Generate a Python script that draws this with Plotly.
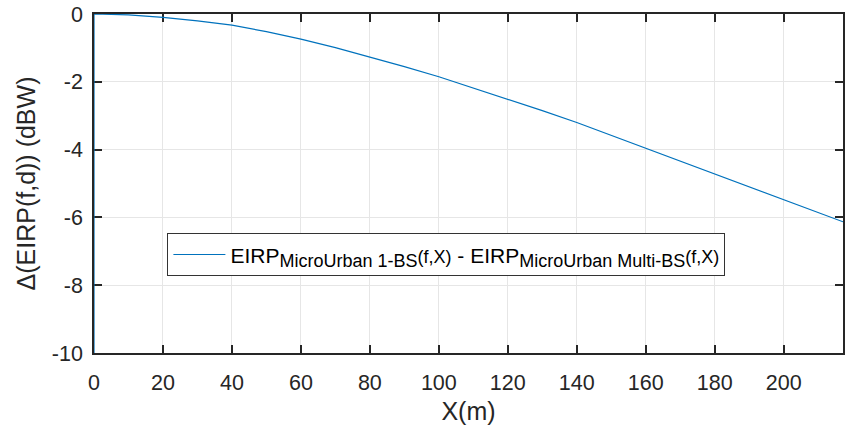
import plotly.graph_objects as go

# Data
x_m = [0, 0, 10, 20, 30, 40, 50, 60, 70, 80, 90, 100, 110, 120, 130, 140,
       150, 160, 170, 180, 190, 200, 210, 217.2]
delta_eirp = [-100, 0, -0.025, -0.1, -0.2, -0.33, -0.52, -0.74, -0.99, -1.26,
              -1.55, -1.85, -2.18, -2.51, -2.85, -3.2, -3.58, -3.96, -4.34,
              -4.72, -5.1, -5.48, -5.86, -6.13]
x_ticks = [0, 20, 40, 60, 80, 100, 120, 140, 160, 180, 200]
y_ticks = [0, -2, -4, -6, -8, -10]
y_tick_labels = ["0", "-2", "-4", "-6", "-8", "-10"]


def sub(t):
    return '<sub><span style="font-size:18px">' + t + '</span></sub>'


FX = '<span style="font-size:18px">(f,X)</span>'
series_name = ("EIRP" + sub("MicroUrban 1-BS") + FX + " - "
               "EIRP" + sub("MicroUrban Multi-BS") + FX)

FONT = "Liberation Sans, Arial, Helvetica, sans-serif"
TXT = "#262626"

fig = go.Figure()
fig.add_trace(go.Scatter(
    x=x_m, y=delta_eirp, mode="lines", name=series_name,
    line=dict(color="#0072BD", width=1.2),
    showlegend=True,
))

axis_common = dict(
    showline=True, linecolor=TXT, linewidth=1.5, mirror="ticks",
    ticks="inside", ticklen=8, tickwidth=1.5, tickcolor=TXT,
    showgrid=True, gridcolor="#e6e6e6", gridwidth=1.2,
    zeroline=False, layer="below traces", automargin=False,
    tickfont=dict(family=FONT, size=21.5, color=TXT),
    title_font=dict(family=FONT, size=25, color=TXT),
)

fig.update_layout(
    width=845, height=425,
    margin=dict(l=94, r=2, t=14, b=72),
    paper_bgcolor="white", plot_bgcolor="white",
    font=dict(family=FONT, color=TXT),
    xaxis=dict(range=[0, 217.2], tickvals=x_ticks, ticklabelstandoff=9,
               title=dict(text="X(m)", standoff=10), **axis_common),
    yaxis=dict(range=[-10, 0], tickvals=y_ticks, ticktext=y_tick_labels,
               ticklabelstandoff=5,
               title=dict(text="Δ(EIRP(f,d)) (dBW)", standoff=9),
               **axis_common),
    legend=dict(x=0.098, y=0.353, xanchor="left", yanchor="top",
                bgcolor="white", bordercolor="#333333", borderwidth=1,
                itemwidth=52,
                font=dict(family=FONT, size=21, color="black")),
)

fig.write_html(
    "out.html",
    config={"displayModeBar": False},
    post_script="document.body.style.margin='0';"
                "document.body.style.overflow='hidden';",
)
